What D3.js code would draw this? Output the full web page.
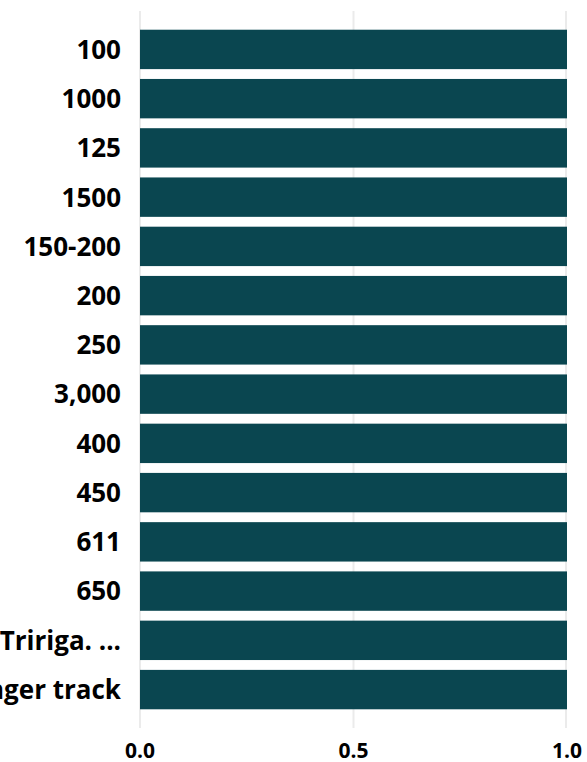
<!DOCTYPE html>
<html>
<head>
<meta charset="utf-8">
<script src="https://cdn.jsdelivr.net/npm/d3@7"></script>
<style>
  html, body { margin: 0; padding: 0; background: #ffffff; }
  svg { display: block; }
  text { font-family: "Open Sans", "Segoe UI", sans-serif; font-weight: 700; fill: #000; }
</style>
</head>
<body>
<svg id="chart" width="587" height="762"></svg>
<script>
const categories = ["100", "1000", "125", "1500", "150-200", "200", "250", "3,000", "400", "450", "611", "650", "IBM Tririga. ...", "Passenger track"];
const values = [1, 1, 1, 1, 1, 1, 1, 1, 1, 1, 1, 1, 1, 1];
const xTicks = [0, 0.5, 1.0];
const xTickLabels = ["0.0", "0.5", "1.0"];

const data = categories.map((c, i) => ({ category: c, value: values[i] }));

const svg = d3.select("#chart");
const x = d3.scaleLinear().domain([0, 1]).range([140, 567]);
const y = d3.scaleBand().domain(categories).range([11, 728]).paddingInner(0.2).paddingOuter(0.38);

// gridlines
svg.append("g").selectAll("line").data(xTicks).join("line")
  .attr("x1", d => x(d) - (d === 1 ? 1 : 0)).attr("x2", d => x(d) - (d === 1 ? 1 : 0))
  .attr("y1", 11).attr("y2", 728)
  .attr("stroke", "#ebebeb").attr("stroke-width", 2);

// bars
svg.append("g").selectAll("rect").data(data).join("rect")
  .attr("x", x(0))
  .attr("y", d => y(d.category))
  .attr("width", d => x(d.value) - x(0))
  .attr("height", y.bandwidth())
  .attr("fill", "#0a4650");

// y labels
svg.append("g").selectAll("text").data(categories).join("text")
  .attr("x", 121)
  .attr("y", d => y(d) + y.bandwidth() / 2)
  .attr("dy", "0.36em")
  .attr("text-anchor", "end")
  .style("font-size", "26px")
  .text(d => d);

// x tick labels
svg.append("g").selectAll("text").data(xTicks).join("text")
  .attr("x", d => x(d))
  .attr("y", 758)
  .attr("text-anchor", "middle")
  .style("font-size", "21px")
  .text((d, i) => xTickLabels[i]);
</script>
</body>
</html>
